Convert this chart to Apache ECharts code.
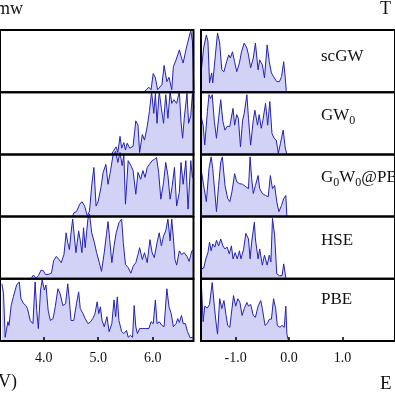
<!DOCTYPE html>
<html><head><meta charset="utf-8">
<script src="https://cdn.jsdelivr.net/npm/echarts@6/dist/echarts.min.js"></script>
<style>html,body{margin:0;padding:0;background:#fff}#c{width:395px;height:395px}</style>
</head><body><div id="c"></div>
<script>
// Row labels (top to bottom)
const rowLabels = ['{n|scGW}', '{n|GW}{s|0}', '{n|G}{s|0}{n|W}{s|0}{n|@PBE}', '{n|HSE}', '{n|PBE}'];
// Tick labels
const leftTicks = [4.0, 5.0, 6.0];
const rightTicks = [-1.0, 0.0, 1.0];

// ---- Left panel (energy, normalized intensity) ----
const scGW_LE = [5.84, 5.88, 5.93, 5.97, 6.01, 6.05, 6.09, 6.17, 6.21, 6.26, 6.30, 6.35, 6.38, 6.43, 6.49, 6.53, 6.56, 6.61, 6.65, 6.70, 6.73, 6.76];
const scGW_LV = [0, 0.04, 0.08, 0.04, 0.30, 0.23, 0.04, 0.12, 0.43, 0.17, 0.24, 0.04, 0.41, 0.52, 0.68, 0.55, 0.47, 0.68, 0.82, 0.99, 0.82, 0.04];

const GW0_LE = [5.24, 5.29, 5.33, 5.36, 5.40, 5.43, 5.47, 5.50, 5.53, 5.58, 5.64, 5.69, 5.73, 5.76, 5.81, 5.85, 5.90, 5.94, 5.98, 6.02, 6.05, 6.08, 6.12, 6.16, 6.20, 6.24, 6.28, 6.32, 6.35, 6.39, 6.44, 6.49, 6.52, 6.55, 6.58, 6.63, 6.66, 6.70, 6.73, 6.76];
const GW0_LV = [0, 0.07, 0.12, 0.03, 0.29, 0.10, 0.19, 0.07, 0.18, 0.10, 0.13, 0.54, 0.47, 0.03, 0.32, 0.23, 0.45, 0.69, 1.01, 0.66, 0.98, 0.50, 1.01, 0.74, 0.50, 0.96, 0.58, 1.01, 0.82, 0.88, 0.82, 1.01, 0.53, 0.26, 0.58, 0.98, 0.50, 0.62, 0.98, 0.74];

const G0W0_LE = [4.53, 4.55, 4.60, 4.66, 4.70, 4.75, 4.80, 4.84, 4.88, 4.92, 4.96, 5.00, 5.05, 5.09, 5.14, 5.18, 5.23, 5.27, 5.32, 5.36, 5.40, 5.44, 5.47, 5.50, 5.55, 5.60, 5.64, 5.69, 5.73, 5.78, 5.82, 5.86, 5.90, 5.94, 5.99, 6.03, 6.07, 6.11, 6.15, 6.20, 6.24, 6.28, 6.32, 6.36, 6.40, 6.44, 6.49, 6.52, 6.56, 6.61, 6.65, 6.70, 6.73, 6.76];
const G0W0_LV = [0, 0.06, 0.08, 0.20, 0.24, 0.17, 0.01, 0.09, 0.50, 0.79, 0.17, 0.25, 0.47, 0.71, 0.84, 0.52, 0.76, 0.98, 1.05, 0.87, 1.03, 0.82, 0.99, 0.20, 0.90, 0.82, 0.74, 0.36, 0.71, 0.60, 0.74, 0.63, 0.79, 0.84, 0.90, 0.92, 0.95, 0.71, 0.28, 0.55, 0.87, 0.66, 0.28, 0.50, 0.79, 0.17, 0.39, 0.87, 0.52, 0.90, 0.12, 0.90, 0.63, 0.65];

const HSE_LE = [3.76, 3.81, 3.86, 3.90, 3.95, 3.99, 4.03, 4.08, 4.14, 4.18, 4.23, 4.27, 4.32, 4.37, 4.41, 4.44, 4.47, 4.50, 4.53, 4.56, 4.59, 4.64, 4.67, 4.70, 4.73, 4.76, 4.81, 4.84, 4.88, 4.93, 4.97, 5.02, 5.06, 5.11, 5.15, 5.18, 5.21, 5.25, 5.29, 5.33, 5.38, 5.43, 5.46, 5.50, 5.55, 5.60, 5.64, 5.69, 5.73, 5.76, 5.81, 5.85, 5.90, 5.95, 5.99, 6.03, 6.08, 6.12, 6.16, 6.20, 6.24, 6.28, 6.32, 6.35, 6.38, 6.41, 6.44, 6.49, 6.53, 6.58, 6.63, 6.67, 6.72, 6.76];
const HSE_LV = [0, 0.06, 0.01, 0.05, 0.14, 0.13, 0.07, 0.07, 0.09, 0.29, 0.36, 0.32, 0.26, 0.39, 0.74, 0.58, 0.47, 0.74, 0.96, 0.69, 0.42, 0.77, 0.61, 0.42, 0.82, 0.50, 0.96, 1.04, 0.74, 0.58, 0.42, 0.26, 0.12, 0.42, 0.71, 0.92, 0.63, 0.26, 0.53, 0.74, 0.90, 0.96, 0.58, 0.23, 0.18, 0.09, 0.20, 0.26, 0.39, 0.50, 0.31, 0.42, 0.26, 0.63, 0.42, 0.34, 0.58, 0.74, 0.53, 0.69, 0.77, 0.96, 0.61, 0.96, 0.66, 0.31, 0.22, 0.45, 0.39, 0.42, 0.36, 0.28, 0.45, 0.47];

const PBE_LE = [3.23, 3.26, 3.29, 3.34, 3.36, 3.40, 3.44, 3.50, 3.55, 3.58, 3.63, 3.67, 3.70, 3.75, 3.80, 3.84, 3.87, 3.90, 3.94, 3.97, 4.01, 4.04, 4.08, 4.12, 4.17, 4.21, 4.26, 4.30, 4.35, 4.40, 4.44, 4.47, 4.50, 4.55, 4.60, 4.64, 4.67, 4.72, 4.76, 4.81, 4.85, 4.90, 4.94, 4.98, 5.01, 5.04, 5.07, 5.11, 5.16, 5.20, 5.25, 5.29, 5.32, 5.35, 5.38, 5.43, 5.47, 5.52, 5.55, 5.59, 5.63, 5.66, 5.69, 5.72, 5.76, 5.81, 5.87, 5.93, 5.97, 6.01, 6.05, 6.08, 6.12, 6.17, 6.21, 6.26, 6.30, 6.34, 6.38, 6.43, 6.46, 6.49, 6.53, 6.56, 6.60, 6.64, 6.69, 6.73, 6.76];
const PBE_LV = [0.92, 0.76, 0.06, 0.31, 0.25, 0.57, 0.71, 0.90, 0.95, 0.68, 0.60, 0.57, 0.52, 0.33, 0.28, 0.95, 0.49, 0.20, 0.82, 0.98, 0.82, 0.90, 0.49, 0.33, 0.36, 0.55, 0.84, 0.76, 0.57, 0.60, 0.92, 0.65, 0.33, 0.33, 0.60, 0.79, 0.52, 0.44, 0.36, 0.28, 0.30, 0.36, 0.44, 0.63, 0.44, 0.55, 0.33, 0.23, 0.39, 0.15, 0.28, 0.66, 0.39, 0.71, 0.33, 0.15, 0.12, 0.17, 0.06, 0.09, 0.06, 0.57, 0.23, 0.12, 0.20, 0.20, 0.20, 0.20, 0.31, 0.28, 0.66, 0.28, 0.31, 0.25, 0.23, 0.84, 0.55, 0.44, 0.23, 0.28, 0.36, 0.30, 0.41, 0.28, 0.28, 0.15, 0.05, 0.06, 0.05];

// ---- Right panel ----
const scGW_RE = [-1.64, -1.60, -1.55, -1.52, -1.49, -1.45, -1.43, -1.38, -1.34, -1.30, -1.26, -1.22, -1.17, -1.13, -1.10, -1.06, -1.02, -0.98, -0.93, -0.89, -0.84, -0.79, -0.76, -0.72, -0.67, -0.63, -0.58, -0.55, -0.50, -0.46, -0.41, -0.37, -0.33, -0.29, -0.23, -0.18, -0.14, -0.10, -0.07, -0.05];
const scGW_RV = [0.39, 0.71, 0.92, 0.82, 0.15, 0.31, 0.15, 0.60, 0.95, 0.79, 0.36, 0.33, 0.49, 0.60, 0.55, 0.65, 0.49, 0.33, 0.47, 0.65, 0.79, 0.71, 0.60, 0.39, 0.55, 0.79, 0.36, 0.52, 0.44, 0.23, 0.76, 0.49, 0.31, 0.25, 0.17, 0.17, 0.25, 0.49, 0.23, 0.0];

const GW0_RE = [-1.64, -1.61, -1.58, -1.53, -1.50, -1.47, -1.44, -1.40, -1.36, -1.32, -1.28, -1.24, -1.20, -1.16, -1.11, -1.08, -1.05, -1.02, -0.98, -0.95, -0.91, -0.87, -0.84, -0.79, -0.76, -0.72, -0.67, -0.64, -0.59, -0.56, -0.52, -0.49, -0.44, -0.40, -0.36, -0.32, -0.28, -0.24, -0.20, -0.16, -0.11, -0.07, -0.04];
const GW0_RV = [0.58, 0.47, 0.15, 0.69, 0.96, 0.90, 0.96, 0.53, 0.26, 0.58, 0.88, 0.53, 0.39, 0.45, 0.45, 0.47, 0.74, 0.47, 0.64, 0.58, 0.12, 0.55, 0.66, 0.96, 0.58, 0.15, 0.55, 0.71, 0.47, 0.64, 0.42, 0.55, 0.82, 0.47, 0.85, 0.34, 0.26, 0.23, 0.02, 0.18, 0.39, 0.10, 0.0];

const G0W0_RE = [-1.64, -1.59, -1.55, -1.50, -1.46, -1.43, -1.36, -1.32, -1.28, -1.25, -1.20, -1.15, -1.11, -1.07, -1.02, -0.98, -0.93, -0.87, -0.81, -0.76, -0.73, -0.70, -0.67, -0.63, -0.58, -0.55, -0.50, -0.44, -0.39, -0.35, -0.31, -0.27, -0.23, -0.19, -0.14, -0.10, -0.06, -0.04];
const G0W0_RV = [0.72, 0.45, 0.24, 0.77, 0.96, 0.77, 0.08, 0.50, 0.88, 0.96, 0.50, 0.29, 0.24, 0.40, 0.69, 0.56, 0.53, 0.52, 0.48, 0.45, 0.96, 0.61, 0.37, 0.50, 0.66, 0.45, 0.37, 0.34, 0.32, 0.66, 0.45, 0.50, 0.24, 0.08, 0.18, 0.29, 0.34, 0.0];

const HSE_RE = [-1.64, -1.60, -1.56, -1.52, -1.49, -1.46, -1.43, -1.39, -1.36, -1.32, -1.28, -1.24, -1.20, -1.16, -1.12, -1.08, -1.05, -1.01, -0.97, -0.93, -0.90, -0.85, -0.81, -0.76, -0.73, -0.70, -0.65, -0.63, -0.58, -0.55, -0.50, -0.46, -0.41, -0.37, -0.34, -0.31, -0.27, -0.23, -0.18, -0.13, -0.10, -0.06, -0.04];
const HSE_RV = [0.16, 0.17, 0.32, 0.42, 0.59, 0.45, 0.56, 0.51, 0.62, 0.53, 0.64, 0.53, 0.48, 0.51, 0.40, 0.53, 0.32, 0.42, 0.32, 0.45, 0.32, 0.48, 0.73, 0.64, 0.32, 0.59, 0.91, 0.64, 0.32, 0.48, 0.22, 0.38, 0.22, 0.38, 0.27, 0.97, 0.70, 0.08, 0.05, 0.05, 0.24, 0.02, 0.0];

const PBE_RE = [-1.64, -1.61, -1.58, -1.53, -1.49, -1.44, -1.40, -1.37, -1.34, -1.30, -1.26, -1.22, -1.18, -1.15, -1.11, -1.07, -1.04, -1.00, -0.96, -0.92, -0.88, -0.84, -0.79, -0.76, -0.72, -0.67, -0.63, -0.58, -0.53, -0.50, -0.45, -0.41, -0.37, -0.33, -0.29, -0.25, -0.22, -0.17, -0.13, -0.09, -0.06, -0.04, -0.01];
const PBE_RV = [0.86, 0.31, 0.56, 0.53, 0.59, 0.94, 0.56, 0.31, 0.11, 0.68, 0.52, 0.65, 0.41, 0.25, 0.22, 0.52, 0.73, 0.56, 0.68, 0.62, 0.41, 0.52, 0.62, 0.56, 0.59, 0.41, 0.38, 0.56, 0.65, 0.52, 0.25, 0.28, 0.35, 0.35, 0.68, 0.52, 0.25, 0.22, 0.25, 0.22, 0.56, 0.11, 0.0];

const leftSets = [[scGW_LE, scGW_LV], [GW0_LE, GW0_LV], [G0W0_LE, G0W0_LV], [HSE_LE, HSE_LV], [PBE_LE, PBE_LV]];
const rightSets = [[scGW_RE, scGW_RV], [GW0_RE, GW0_RV], [G0W0_RE, G0W0_RV], [HSE_RE, HSE_RV], [PBE_RE, PBE_RV]];

const FONT = '"Liberation Serif", "Times New Roman", serif';
const LINE = '#2323b0';
const FILL = '#d2d2f6';
const rowTop = [30, 92.2, 154.4, 216.6, 278.8];
const rowH = 62.2;
const labelY = [57, 116, 178, 241, 300];

const grids = [], xAxes = [], yAxes = [], series = [];
function addPanel(sets, side) {
  sets.forEach((s, r) => {
    const gi = grids.length;
    grids.push(side === 'L'
      ? { left: -2, width: 195.5, top: rowTop[r], height: rowH, show: true, borderColor: '#000', borderWidth: 2, backgroundColor: 'transparent', z: 5 }
      : { left: 201, width: 200, top: rowTop[r], height: rowH, show: true, borderColor: '#000', borderWidth: 2, backgroundColor: 'transparent', z: 5 });
    const bottom = r === 4;
    const ticks = side === 'L' ? leftTicks : rightTicks;
    xAxes.push({
      gridIndex: gi, type: 'value',
      min: side === 'L' ? 3.195 : -1.65,
      max: side === 'L' ? 6.75 : 1.9864,
      axisLine: { show: false }, splitLine: { show: false },
      axisTick: { show: bottom, inside: true, length: 4, customValues: ticks, lineStyle: { color: '#000', width: 1.5 } },
      axisLabel: { show: bottom, customValues: ticks, margin: 10, formatter: v => v.toFixed(1), fontFamily: FONT, fontSize: 14, color: '#111' },
      z: 6
    });
    yAxes.push({ gridIndex: gi, type: 'value', min: 0, max: 1, show: false });
    series.push({
      type: 'line', xAxisIndex: gi, yAxisIndex: gi,
      data: s[0].map((e, i) => [e, s[1][i]]),
      showSymbol: false, symbol: 'none', clip: false,
      lineStyle: { color: LINE, width: 1 },
      areaStyle: { color: FILL, opacity: 1 },
      z: 2, silent: true
    });
  });
}
addPanel(leftSets, 'L');
addPanel(rightSets, 'R');

const graphics = rowLabels.map((t, r) => ({
  type: 'text', left: 321, top: labelY[r] - 9, z: 10,
  style: {
    text: t, fill: '#111',
    rich: {
      n: { fontFamily: FONT, fontSize: 17, lineHeight: 22, fill: '#111' },
      s: { fontFamily: FONT, fontSize: 12, lineHeight: 12, verticalAlign: 'bottom', fill: '#111' }
    }
  }
}));
graphics.push({ type: 'text', x: 23, y: 9, z: 10, style: { text: 'mw', font: '18px ' + FONT, fill: '#111', align: 'right', verticalAlign: 'middle' } });
graphics.push({ type: 'text', x: 380, y: 9, z: 10, style: { text: 'T', font: '18px ' + FONT, fill: '#111', align: 'left', verticalAlign: 'middle' } });
graphics.push({ type: 'text', x: 17, y: 382, z: 10, style: { text: 'V)', font: '18px ' + FONT, fill: '#111', align: 'right', verticalAlign: 'middle' } });
graphics.push({ type: 'text', x: 380, y: 384, z: 10, style: { text: 'E', font: '19px ' + FONT, fill: '#111', align: 'left', verticalAlign: 'middle' } });

const chart = echarts.init(document.getElementById('c'), null, { renderer: 'canvas' });
chart.setOption({
  animation: false,
  backgroundColor: '#fff',
  grid: grids, xAxis: xAxes, yAxis: yAxes, series: series,
  graphic: graphics
});
</script></body></html>
